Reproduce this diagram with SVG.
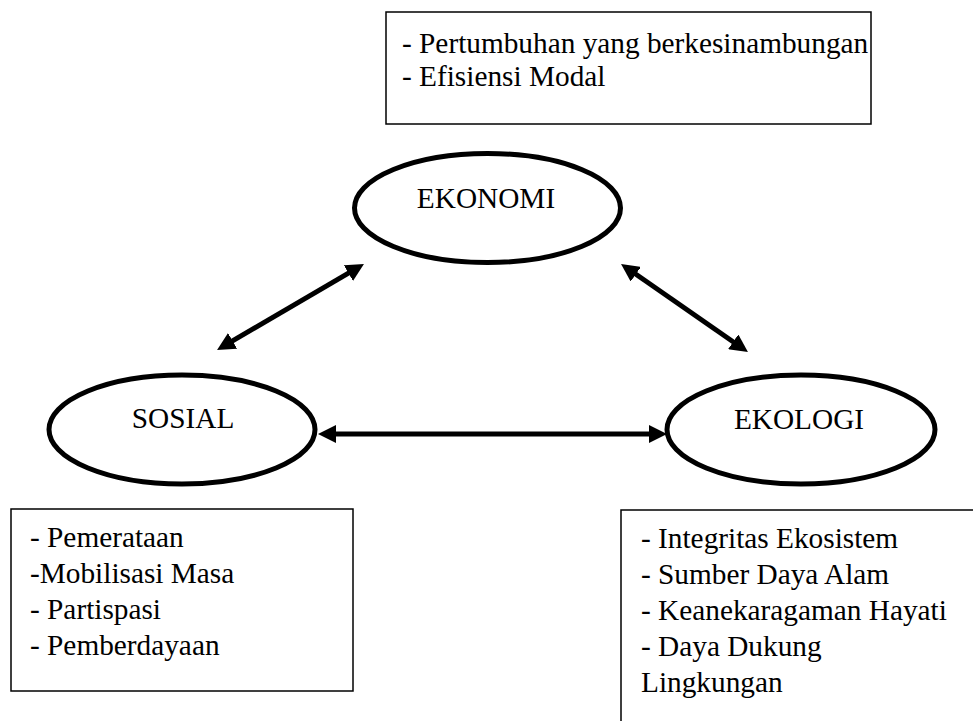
<svg xmlns="http://www.w3.org/2000/svg" width="973" height="721" viewBox="0 0 973 721" font-family="'Liberation Serif', 'Times New Roman', Tinos, 'DejaVu Serif', serif">
<style>
text{font-family:'Liberation Serif','Times New Roman',Tinos,'DejaVu Serif',serif;font-size:29.3px;fill:#000}
.box{fill:#fff;stroke:#000;stroke-width:1.5}
.ell{fill:#fff;stroke:#000;stroke-width:5}
.con{stroke:#000;stroke-width:5;fill:none;marker-start:url(#ah);marker-end:url(#ah)}
.c{text-anchor:middle}
</style>
<defs>
<marker id="ah" markerUnits="userSpaceOnUse" markerWidth="18" markerHeight="18" refX="6" refY="9" orient="auto-start-reverse" viewBox="0 0 18 18">
<path d="M0,0 L18,9 L0,18 z" fill="#000"/>
</marker>
</defs>
<rect width="973" height="721" fill="#fff"/>
<g id="box-ekonomi">
<rect class="box" x="386" y="12" width="485" height="112"/>
<text x="402" y="53">- Pertumbuhan yang berkesinambungan</text>
<text x="402" y="86">- Efisiensi Modal</text>
</g>
<g id="node-ekonomi">
<ellipse class="ell" cx="487.5" cy="208" rx="133" ry="54.5"/>
<text class="c" x="486" y="208">EKONOMI</text>
</g>
<g id="node-sosial">
<ellipse class="ell" cx="182" cy="429.5" rx="133" ry="54.5"/>
<text class="c" x="183" y="428">SOSIAL</text>
</g>
<g id="node-ekologi">
<ellipse class="ell" cx="801" cy="429.5" rx="134" ry="54.5"/>
<text class="c" x="799" y="429">EKOLOGI</text>
</g>
<g id="box-sosial">
<rect class="box" x="11" y="509" width="342" height="182"/>
<text x="30" y="547">- Pemerataan</text>
<text x="30" y="583">-Mobilisasi Masa</text>
<text x="30" y="619">- Partispasi</text>
<text x="30" y="655">- Pemberdayaan</text>
</g>
<g id="box-ekologi">
<rect class="box" x="621" y="510" width="400" height="260"/>
<text x="641" y="548">- Integritas Ekosistem</text>
<text x="641" y="584">- Sumber Daya Alam</text>
<text x="641" y="620">- Keanekaragaman Hayati</text>
<text x="641" y="656">- Daya Dukung</text>
<text x="641" y="692">Lingkungan</text>
</g>
<g id="connectors">
<line class="con" x1="227.4" y1="343.9" x2="353.6" y2="270.1"/>
<line class="con" x1="630.9" y1="270.8" x2="738.1" y2="345.2"/>
<line class="con" x1="330" y1="434" x2="655" y2="434"/>
</g>
</svg>
